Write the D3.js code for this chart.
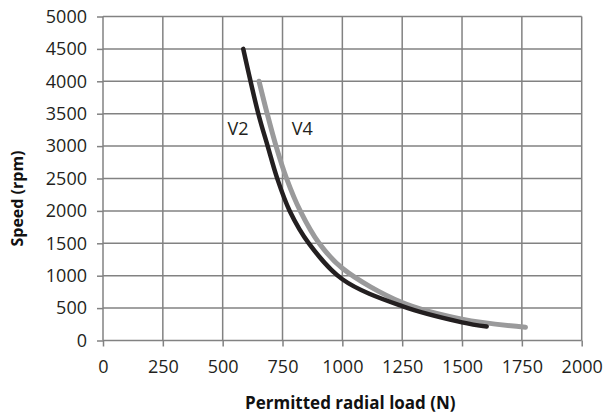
<!DOCTYPE html>
<html>
<head>
<meta charset="utf-8">
<script src="https://cdn.jsdelivr.net/npm/d3@7/dist/d3.min.js"></script>
<style>
  html, body { margin: 0; padding: 0; background: #fff; }
  svg { display: block; }
</style>
</head>
<body>
<div id="chart"></div>
<script>
// ---- data ----
const xTicks = [0, 250, 500, 750, 1000, 1250, 1500, 1750, 2000];
const yTicks = [0, 500, 1000, 1500, 2000, 2500, 3000, 3500, 4000, 4500, 5000];

const v2Load  = [586, 649, 688, 728, 780, 860, 1000, 1250, 1500, 1603];
const v2Speed = [4500, 3500, 3000, 2500, 2000, 1500, 945, 530, 280, 215];

const v4Load  = [652, 686, 723, 767, 824, 903, 1000, 1250, 1500, 1765];
const v4Speed = [4000, 3500, 3000, 2500, 2000, 1500, 1115, 585, 330, 205];

const seriesNames = ["V2", "V4"];
const labelLoad  = [564, 833];
const labelSpeed = [3170, 3170];

const xTitle = "Permitted radial load (N)";
const yTitle = "Speed (rpm)";

// ---- layout ----
const W = 608, H = 418;
const margin = { left: 103, right: 26.3, top: 16.5, bottom: 77.5 };
const iw = W - margin.left - margin.right;
const ih = H - margin.top - margin.bottom;

const svg = d3.select("#chart").append("svg")
  .attr("width", W).attr("height", H);

const x = d3.scaleLinear().domain([0, 2000]).range([margin.left, margin.left + iw]);
const y = d3.scaleLinear().domain([0, 5000]).range([margin.top + ih, margin.top]);

const gridColor = "#828282";
const textColor = "#231f20";
const fontFam = "'Open Sans', 'DejaVu Sans', sans-serif";

// grid
const grid = svg.append("g");
grid.selectAll("line.h").data(yTicks).join("line")
  .attr("x1", x(0)).attr("x2", x(2000))
  .attr("y1", d => y(d)).attr("y2", d => y(d))
  .attr("stroke", gridColor).attr("stroke-width", 1.5);
grid.selectAll("line.v").data(xTicks).join("line")
  .attr("x1", d => x(d)).attr("x2", d => x(d))
  .attr("y1", y(0)).attr("y2", y(5000))
  .attr("stroke", gridColor).attr("stroke-width", 1.5);

// axes
const yAxis = svg.append("g")
  .attr("transform", `translate(${x(0)},0)`)
  .call(d3.axisLeft(y).tickValues(yTicks).tickSize(6).tickPadding(10).tickFormat(d3.format("d")));
const xAxis = svg.append("g")
  .attr("transform", `translate(0,${y(0)})`)
  .call(d3.axisBottom(x).tickValues(xTicks).tickSize(6).tickPadding(14).tickFormat(d3.format("d")));

[xAxis, yAxis].forEach(g => {
  g.select(".domain").remove();
  g.selectAll(".tick line").attr("stroke", gridColor).attr("stroke-width", 1.5);
  g.selectAll(".tick text")
    .attr("fill", textColor)
    .style("font-family", fontFam)
    .style("font-size", "18px");
});

// curves
const line = d3.line()
  .x(d => x(d[0])).y(d => y(d[1]))
  .curve(d3.curveCatmullRom.alpha(0.5));

const v4 = v4Load.map((l, i) => [l, v4Speed[i]]);
const v2 = v2Load.map((l, i) => [l, v2Speed[i]]);

svg.append("path").datum(v4)
  .attr("d", line).attr("fill", "none")
  .attr("stroke", "#9a9a9b").attr("stroke-width", 5)
  .attr("stroke-linecap", "round");
svg.append("path").datum(v2)
  .attr("d", line).attr("fill", "none")
  .attr("stroke", "#231f20").attr("stroke-width", 4.5)
  .attr("stroke-linecap", "round");

// series labels
svg.selectAll("text.lbl").data(seriesNames).join("text")
  .attr("class", "lbl")
  .attr("x", (d, i) => x(labelLoad[i]))
  .attr("y", (d, i) => y(labelSpeed[i]))
  .attr("text-anchor", "middle")
  .attr("fill", textColor)
  .style("font-family", fontFam)
  .style("font-size", "18px")
  .text(d => d);

// axis titles
svg.append("text")
  .attr("x", margin.left + iw / 2 + 8)
  .attr("y", 409)
  .attr("text-anchor", "middle")
  .attr("fill", "#111")
  .style("font-family", fontFam)
  .style("font-size", "17px")
  .style("font-weight", "bold")
  .text(xTitle);

svg.append("text")
  .attr("transform", `translate(23,${margin.top + ih / 2 + 20}) rotate(-90)`)
  .attr("text-anchor", "middle")
  .attr("fill", "#111")
  .style("font-family", fontFam)
  .style("font-size", "16px")
  .style("font-weight", "bold")
  .text(yTitle);
</script>
</body>
</html>
